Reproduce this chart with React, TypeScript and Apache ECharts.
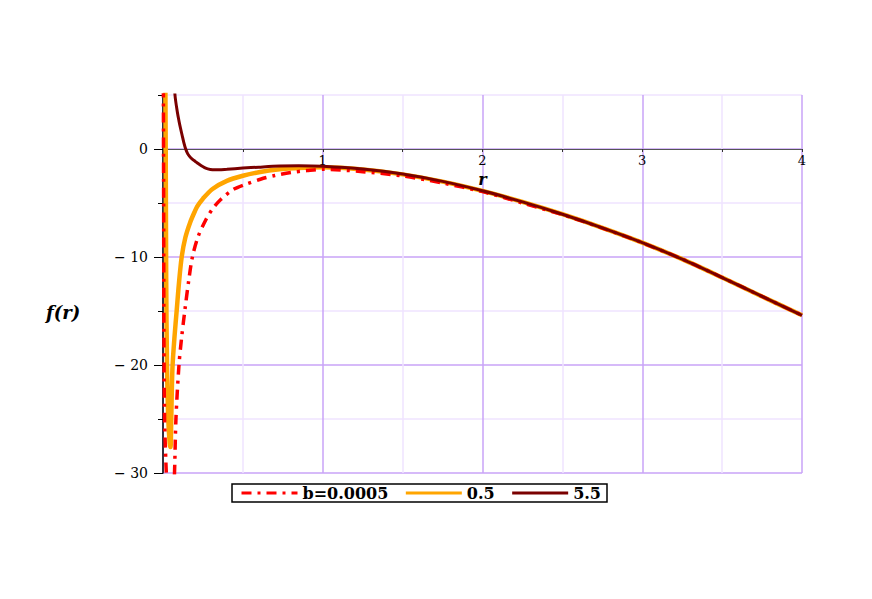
import React, { useEffect, useRef } from "react";
import * as echarts from "echarts";

// ---- data (r, f(r)) ----
const seriesNames = ["b=0.0005", "0.5", "5.5"];
const seriesColors = ["#ff0000", "#ffa500", "#7a0000"];

const xLabelValues = [1, 2, 3, 4];
const yLabelValues = [0, -10, -20, -30];

// b = 0.0005 (red, dash-dot)
const rRed = [0.002, 0.004, 0.006, 0.01, 0.018, 0.022, 0.04, 0.06, 0.072, 0.081, 0.1, 0.117, 0.138, 0.16, 0.184, 0.22, 0.27, 0.31, 0.36, 0.44, 0.52, 0.61, 0.7, 0.8, 0.9, 1.0, 1.25, 1.5, 1.75, 2.0, 2.25, 2.5, 2.75, 3.0, 3.25, 3.5, 3.75, 4.0];
const fRed = [8, -5, -18, -25, -29, -30.5, -40, -34, -30, -25, -20, -17.4, -14.8, -12.3, -10, -8.1, -6.5, -5.55, -4.7, -3.75, -3.25, -2.8, -2.45, -2.17, -2.0, -1.88, -2.1, -2.5, -3.15, -3.95, -5.0, -6.08, -7.32, -8.68, -10.2, -11.9, -13.65, -15.4];

// b = 0.5 (orange)
const rOrange = [0.014, 0.017, 0.02, 0.025, 0.033, 0.042, 0.047, 0.051, 0.055, 0.06, 0.072, 0.086, 0.1, 0.117, 0.14, 0.17, 0.2, 0.215, 0.25, 0.31, 0.4, 0.5, 0.6, 0.73, 0.85, 1.0, 1.25, 1.5, 1.75, 2.0, 2.25, 2.5, 2.75, 3.0, 3.25, 3.5, 3.75, 4.0];
const fOrange = [8, 0, -12, -20, -25, -27.3, -27.6, -25.5, -22.5, -20, -17.4, -14.9, -12.4, -10, -8.2, -6.8, -5.75, -5.3, -4.6, -3.7, -2.95, -2.48, -2.15, -1.88, -1.75, -1.7, -1.9, -2.35, -3.02, -3.88, -4.9, -6.04, -7.3, -8.67, -10.2, -11.9, -13.65, -15.4];

// b = 5.5 (dark red)
const rDark = [0.065, 0.075, 0.09, 0.1, 0.11, 0.12, 0.13, 0.142, 0.155, 0.17, 0.185, 0.2, 0.22, 0.24, 0.26, 0.28, 0.31, 0.35, 0.4, 0.5, 0.6, 0.73, 0.85, 1.0, 1.25, 1.5, 1.75, 2.0, 2.25, 2.5, 2.75, 3.0, 3.25, 3.5, 3.75, 4.0];
const fDark = [8, 5, 3.4, 2.6, 1.9, 1.25, 0.62, 0, -0.45, -0.75, -0.97, -1.13, -1.35, -1.55, -1.72, -1.84, -1.92, -1.93, -1.88, -1.77, -1.68, -1.58, -1.55, -1.6, -1.86, -2.32, -3.0, -3.87, -4.9, -6.04, -7.3, -8.67, -10.2, -11.9, -13.65, -15.4];

const zip = (xs: number[], ys: number[]) => xs.map((x, i) => [x, ys[i]]);

const MAJOR = "#c9a3f7";
const MINOR = "#efe3ff";
const SERIF = '"DejaVu Serif", "Liberation Serif", serif';

// layout of the plot area
const GRID_LEFT = 163;
const GRID_TOP = 95;
const GRID_W = 639;
const GRID_H = 378;
const Y_MIN = -30;
const Y_MAX = 5;
// the r-axis sits on f = 0: shift the bottom axis up to that height
const X_AXIS_OFFSET = -(GRID_H * (0 - Y_MIN)) / (Y_MAX - Y_MIN);

export default function App() {
  const ref = useRef<HTMLDivElement>(null);

  useEffect(() => {
    if (!ref.current) return;
    const chart = echarts.init(ref.current, undefined, { renderer: "svg" });

    const lineSeries = (name: string, data: number[][], color: string, width: number, type: any, z: number) => ({
      name,
      type: "line",
      data,
      showSymbol: false,
      symbol: "none",
      smooth: 0.3,
      clip: true,
      z,
      lineStyle: { color, width, type },
      itemStyle: { color },
    });

    chart.setOption({
      animation: false,
      backgroundColor: "#ffffff",
      grid: { left: GRID_LEFT, top: GRID_TOP, width: GRID_W, height: GRID_H, containLabel: false, outerBoundsMode: "none" },
      legend: {
        data: seriesNames,
        left: 232,
        top: 484,
        orient: "horizontal",
        itemWidth: 56,
        itemHeight: 12,
        itemGap: 16,
        padding: [1, 6, 1, 8],
        borderColor: "#000",
        borderWidth: 1.5,
        borderRadius: 0,
        itemStyle: { opacity: 0 },
        lineStyle: { width: 3 },
        textStyle: { fontFamily: SERIF, fontWeight: "bold", fontSize: 16, color: "#000" },
      },
      xAxis: [
        {
          type: "value",
          min: 0,
          max: 4,
          interval: 0.5,
          position: "bottom",
          offset: X_AXIS_OFFSET,
          name: "r",
          nameLocation: "middle",
          nameGap: 19,
          nameTextStyle: { fontFamily: SERIF, fontStyle: "italic", fontWeight: "bold", fontSize: 16, color: "#000" },
          axisLine: { show: true, onZero: false, lineStyle: { color: "#555", width: 1 } },
          axisTick: { show: true, length: 3, lineStyle: { color: "#333", width: 1 } },
          axisLabel: {
            margin: 5,
            fontFamily: SERIF,
            fontSize: 13,
            color: "#000",
            formatter: (v: number) => (xLabelValues.includes(v) ? String(v) : ""),
          },
          splitLine: { show: true, lineStyle: { color: [MAJOR, MINOR], width: 1.5 } },
        },
      ],
      yAxis: [
        {
          type: "value",
          min: Y_MIN,
          max: Y_MAX,
          interval: 5,
          position: "left",
          axisLine: { show: true, onZero: false, lineStyle: { color: "#000", width: 1.5 } },
          axisTick: { show: true, length: 5, lineStyle: { color: "#000", width: 1 } },
          axisLabel: {
            margin: 15,
            fontFamily: SERIF,
            fontSize: 14,
            color: "#000",
            formatter: (v: number) =>
              yLabelValues.includes(v) ? (v === 0 ? "0" : "\u2212 " + Math.abs(v)) : "",
          },
          splitLine: { show: true, lineStyle: { color: [MAJOR, MINOR], width: 1.5 } },
        },
        {
          type: "value",
          min: Y_MIN,
          max: Y_MAX,
          interval: 10,
          position: "left",
          axisLine: { show: false, onZero: false },
          axisTick: { show: true, length: 9, customValues: yLabelValues, lineStyle: { color: "#000", width: 1 } },
          axisLabel: { show: false },
          splitLine: { show: false },
        },
      ],
      graphic: [
        {
          type: "text",
          left: 46,
          top: 303,
          style: {
            text: "f(r)",
            font: `italic bold 18px ${SERIF}`,
            fill: "#000",
          },
        },
      ],
      series: [
        lineSeries(seriesNames[0], zip(rRed, fRed), seriesColors[0], 3.5, [10, 6, 3, 6], 3),
        lineSeries(seriesNames[1], zip(rOrange, fOrange), seriesColors[1], 4.5, "solid", 2),
        lineSeries(seriesNames[2], zip(rDark, fDark), seriesColors[2], 3, "solid", 4),
      ],
    });

    return () => chart.dispose();
  }, []);

  return (
    <div
      ref={ref}
      style={{ position: "fixed", left: 0, top: 0, width: 872, height: 599, background: "#fff" }}
    />
  );
}
